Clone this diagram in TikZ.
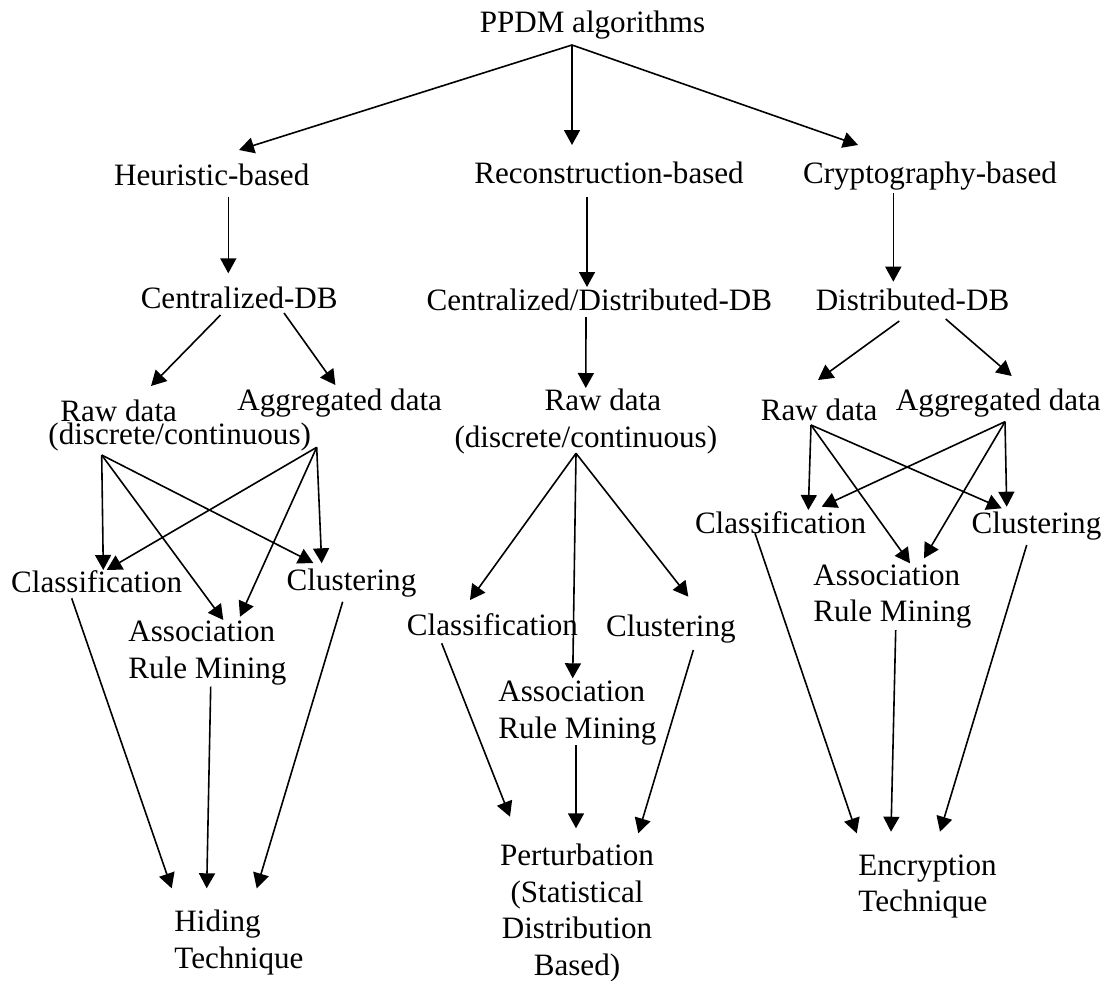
\documentclass[tikz,border=0pt]{standalone}
\usepackage{fontspec}
\setmainfont{Liberation Serif}
\usepackage{tikz}
\usetikzlibrary{arrows.meta}
\tikzset{
  lbl/.style={inner sep=0pt, anchor=base, font=\fontsize{15.55}{18.25}\selectfont},
  stack/.style={lbl, anchor=base west, align=left},
  arr/.style={draw=black, line width=0.8pt, -{Triangle[length=7.5pt,width=8pt]}}
}

\begin{document}
\begin{tikzpicture}[x=0.5pt, y=-0.5pt]
  \useasboundingbox (0,0) rectangle (1111,980);

  % top levels
  \node[lbl] (top) at (592.5,32.5) {PPDM algorithms};
  \node[lbl] (heur) at (211.7,185) {Heuristic-based};
  \node[lbl] (recon) at (609,183.3) {Reconstruction-based};
  \node[lbl] (crypto) at (930,183.3) {Cryptography-based};

  \node[lbl] (centr) at (239.2,308.3) {Centralized-DB};
  \node[lbl] (cendist) at (599.3,310) {Centralized/Distributed-DB};
  \node[lbl] (dist) at (912.5,310) {Distributed-DB};

  % data kinds (multi-line nodes sit on their last baseline)
  \node[stack] (rawL) at (48,444.4) {\hspace*{6pt}Raw data\\[-6.9pt](discrete/continuous)};
  \node[lbl] (aggL) at (339.7,410) {Aggregated data};
  \node[lbl, align=center] (rawM) at (585.8,447) {\hspace*{17pt}Raw data\\(discrete/continuous)};
  \node[lbl] (rawR) at (819.2,420) {Raw data};
  \node[lbl] (aggR) at (998.3,410) {Aggregated data};

  % mining tasks
  \node[lbl] (classL) at (96.7,592) {Classification};
  \node[stack] (assocL) at (128,678) {Association\\Rule Mining};
  \node[lbl] (clustL) at (351.5,590) {Clustering};
  \node[lbl] (classM) at (492.5,635) {Classification};
  \node[stack] (assocM) at (498,738.3) {Association\\Rule Mining};
  \node[lbl] (clustM) at (670.8,636.7) {Clustering};
  \node[lbl] (classR) at (780.5,533.3) {Classification};
  \node[stack] (assocR) at (813,621.7) {Association\\Rule Mining};
  \node[lbl] (clustR) at (1036.5,533) {Clustering};

  % techniques
  \node[stack] (hiding) at (174,968) {Hiding\\Technique};
  \node[lbl, align=center] (perturb) at (577,975) {Perturbation\\(Statistical\\Distribution\\Based)};
  \node[stack] (encrypt) at (858,911.7) {Encryption\\Technique};

  % connectors
  \draw[arr] ([shift={(-20.5,12.5)}]top.base) -- ([shift={(27.3,-35)}]heur.base);
  \draw[arr] ([shift={(-20.5,12.5)}]top.base) -- ([shift={(-37,-38.3)}]recon.base);
  \draw[arr] ([shift={(-20.5,12.5)}]top.base) -- ([shift={(-72,-38.3)}]crypto.base);

  \draw[arr] ([shift={(16.6,11.7)}]heur.base) -- ([shift={(-10.9,-35)}]centr.base);
  \draw[arr] ([shift={(-22,13.7)}]recon.base) -- ([shift={(-12.3,-23)}]cendist.base);
  \draw[arr] ([shift={(-36.7,10)}]crypto.base) -- ([shift={(-19.2,-28.3)}]dist.base);

  \draw[arr] ([shift={(-18.7,6.7)}]centr.base) -- ([shift={(103,-58.4)}]rawL.base west);
  \draw[arr] ([shift={(44.8,4.7)}]centr.base) -- ([shift={(-4.3,-25)}]aggL.base);
  \draw[arr] ([shift={(-13.3,7)}]cendist.base) -- ([shift={(0,-59)}]rawM.base);
  \draw[arr] ([shift={(-13.2,11)}]dist.base) -- ([shift={(-1.2,-40)}]rawR.base);
  \draw[arr] ([shift={(33.2,9)}]dist.base) -- ([shift={(13.4,-34)}]aggR.base);

  \draw[arr] ([shift={(53.7,10.6)}]rawL.base west) -- ([shift={(6.6,-22)}]classL.base);
  \draw[arr] ([shift={(53.7,10.6)}]rawL.base west) -- ([shift={(95.3,-58)}]assocL.base west);
  \draw[arr] ([shift={(53.7,10.6)}]rawL.base west) -- ([shift={(-38.2,-27)}]clustL.base);
  \draw[arr] ([shift={(-23,37.3)}]aggL.base) -- ([shift={(10,-22)}]classL.base);
  \draw[arr] ([shift={(-23,37.3)}]aggL.base) -- ([shift={(112,-61.3)}]assocL.base west);
  \draw[arr] ([shift={(-23,37.3)}]aggL.base) -- ([shift={(-29.8,-26.7)}]clustL.base);

  \draw[arr] ([shift={(-9.8,6.3)}]rawM.base) -- ([shift={(-22.5,-35)}]classM.base);
  \draw[arr] ([shift={(-9.8,6.3)}]rawM.base) -- ([shift={(74.7,-60)}]assocM.base west);
  \draw[arr] ([shift={(-9.8,6.3)}]rawM.base) -- ([shift={(17.5,-40)}]clustM.base);

  \draw[arr] ([shift={(-8.2,5)}]rawR.base) -- ([shift={(27.8,-23.3)}]classR.base);
  \draw[arr] ([shift={(-8.2,5)}]rawR.base) -- ([shift={(97,-58.4)}]assocR.base west);
  \draw[arr] ([shift={(-8.2,5)}]rawR.base) -- ([shift={(-34.8,-24.7)}]clustR.base);
  \draw[arr] ([shift={(6.7,11.7)}]aggR.base) -- ([shift={(41.2,-26.6)}]classR.base);
  \draw[arr] ([shift={(6.7,11.7)}]aggR.base) -- ([shift={(111,-63.4)}]assocR.base west);
  \draw[arr] ([shift={(6.7,11.7)}]aggR.base) -- ([shift={(-29.8,-26.3)}]clustR.base);

  \draw[arr] ([shift={(-25,6.3)}]classL.base) -- ([shift={(-2.3,-79.7)}]hiding.base west);
  \draw[arr] ([shift={(82.7,8.7)}]assocL.base west) -- ([shift={(32.7,-79.7)}]hiding.base west);
  \draw[arr] ([shift={(-8.8,11.7)}]clustL.base) -- ([shift={(82.7,-79.7)}]hiding.base west);

  \draw[arr] ([shift={(-50.8,8.3)}]classM.base) -- ([shift={(-67,-158.3)}]perturb.base);
  \draw[arr] ([shift={(78,6.7)}]assocM.base west) -- ([shift={(-1,-146.7)}]perturb.base);
  \draw[arr] ([shift={(22.5,13.3)}]clustM.base) -- ([shift={(61.3,-141.7)}]perturb.base);

  \draw[arr] ([shift={(-25.5,0)}]classR.base) -- ([shift={(-1.3,-78.4)}]encrypt.base west);
  \draw[arr] ([shift={(82.7,8.3)}]assocR.base west) -- ([shift={(33,-80)}]encrypt.base west);
  \draw[arr] ([shift={(-9.8,12)}]clustR.base) -- ([shift={(82,-80)}]encrypt.base west);
\end{tikzpicture}
\end{document}
